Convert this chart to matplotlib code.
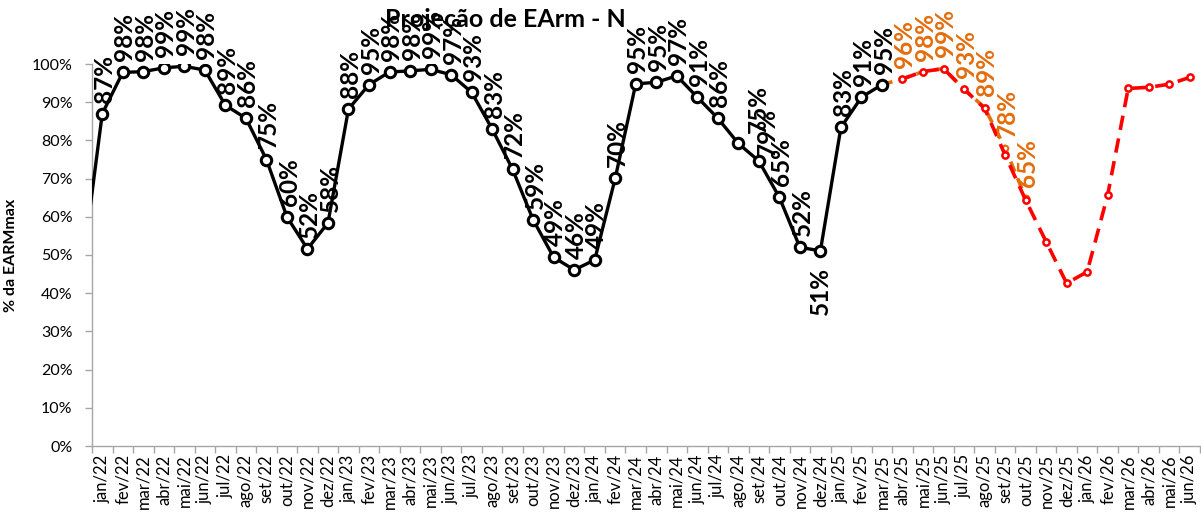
import matplotlib
matplotlib.use("Agg")
import matplotlib.pyplot as plt
from matplotlib.ticker import FixedLocator, PercentFormatter

plt.rcParams['font.family'] = ['Lato', 'DejaVu Sans']

# ================= DATA =================
months = ['jan', 'fev', 'mar', 'abr', 'mai', 'jun', 'jul', 'ago', 'set', 'out', 'nov', 'dez']
categories = [f'{m}/{y}' for y in (22, 23, 24, 25) for m in months] + \
             [f'{m}/26' for m in months[:6]]

# verified history (first value = dez/21, falls just outside the axis)
hist_start = -1
hist = [45.4,
        87.0, 97.8, 98.0, 99.0, 99.4, 98.4, 89.2, 85.8, 75.0, 60.0, 51.6, 58.4,
        88.2, 94.6, 97.9, 98.2, 98.6, 97.2, 92.6, 83.0, 72.4, 59.2, 49.4, 46.1,
        48.7, 70.1, 94.8, 95.2, 96.9, 91.3, 85.8, 79.2, 74.6, 65.1, 52.0, 51.1,
        83.4, 91.3, 94.6]

# short projection (orange), from mar/25
proj_start = 38
proj = [94.6, 96.1, 98.0, 98.8, 93.4, 88.6, 78.0, 65.0]

# long projection (red), from abr/25
red_start = 39
red = [96.1, 98.0, 98.8, 93.4, 88.4, 76.2, 64.4, 53.5, 42.6, 45.6, 65.7,
       93.6, 93.9, 94.7, 96.5]

ORANGE = '#E46C0A'

# ================= PLOT =================
fig = plt.figure(figsize=(12.01, 5.12), dpi=100)
ax = fig.add_axes([92/1201, 66/512, 1108/1201, 382/512])

x_hist = list(range(hist_start, hist_start + len(hist)))
x_proj = list(range(proj_start, proj_start + len(proj)))
x_red = list(range(red_start, red_start + len(red)))

ax.plot(x_proj, proj, color=ORANGE, lw=2.6, ls=(0, (3, 2)), marker='o', ms=4,
        mfc='white', mec=ORANGE, mew=1.5, zorder=3)
ax.plot(x_red, red, color='#FF0000', lw=2.6, ls=(0, (4, 2.4)), marker='o', ms=4.5,
        mfc='white', mec='#FF0000', mew=1.8, zorder=4)
ax.plot(x_hist, hist, color='black', lw=2.4, marker='o', ms=7.5,
        mfc='white', mec='black', mew=2.2, zorder=5)

# data labels
lab_kw = dict(textcoords='offset points', rotation=90, ha='center',
              fontsize=17.5, fontweight='bold', annotation_clip=False)
special = {'ago/24': (21, -9, 'bottom'), 'set/24': (0, 20, 'bottom'),
           'dez/24': (0, -12, 'top')}
for xi, v in zip(x_hist, hist):
    if xi < 0:
        continue
    dx, dy, va = special.get(categories[xi], (1.5, 8, 'bottom'))
    ax.annotate(f'{v:.0f}%', (xi, v), xytext=(dx, dy), va=va, color='black',
                zorder=6, **lab_kw)
for xi, v in zip(x_proj[1:], proj[1:]):
    ax.annotate(f'{v:.0f}%', (xi, v), xytext=(1.5, 8), va='bottom', color=ORANGE,
                zorder=6, **lab_kw)

# axes styling
ax.set_xlim(-0.5, len(categories) - 0.5)
ax.set_ylim(0, 100)
ax.yaxis.set_major_locator(FixedLocator(range(0, 101, 10)))
ax.yaxis.set_major_formatter(PercentFormatter(decimals=0))
ax.set_xticks(range(len(categories)))
ax.set_xticklabels(categories, rotation=90, fontsize=12)
ax.tick_params(axis='x', length=0, pad=6)
ax.set_xticks([i - 0.5 for i in range(len(categories) + 1)], minor=True)
ax.tick_params(axis='x', which='minor', length=5, color='#A6A6A6', width=1)
ax.tick_params(axis='y', labelsize=11.5, length=5, color='#A6A6A6', width=1, pad=9)
for side in ('top', 'right'):
    ax.spines[side].set_visible(False)
for side in ('left', 'bottom'):
    ax.spines[side].set_color('#A6A6A6')
    ax.spines[side].set_linewidth(1)

ax.set_ylabel('% da EARMmax', fontsize=11.5, fontweight='bold', labelpad=10)
fig.text(0.421, 0.962, 'Projeção de EArm - N', ha='center', va='center',
         fontsize=18, fontweight='bold')

fig.savefig('out.png', dpi=100)
